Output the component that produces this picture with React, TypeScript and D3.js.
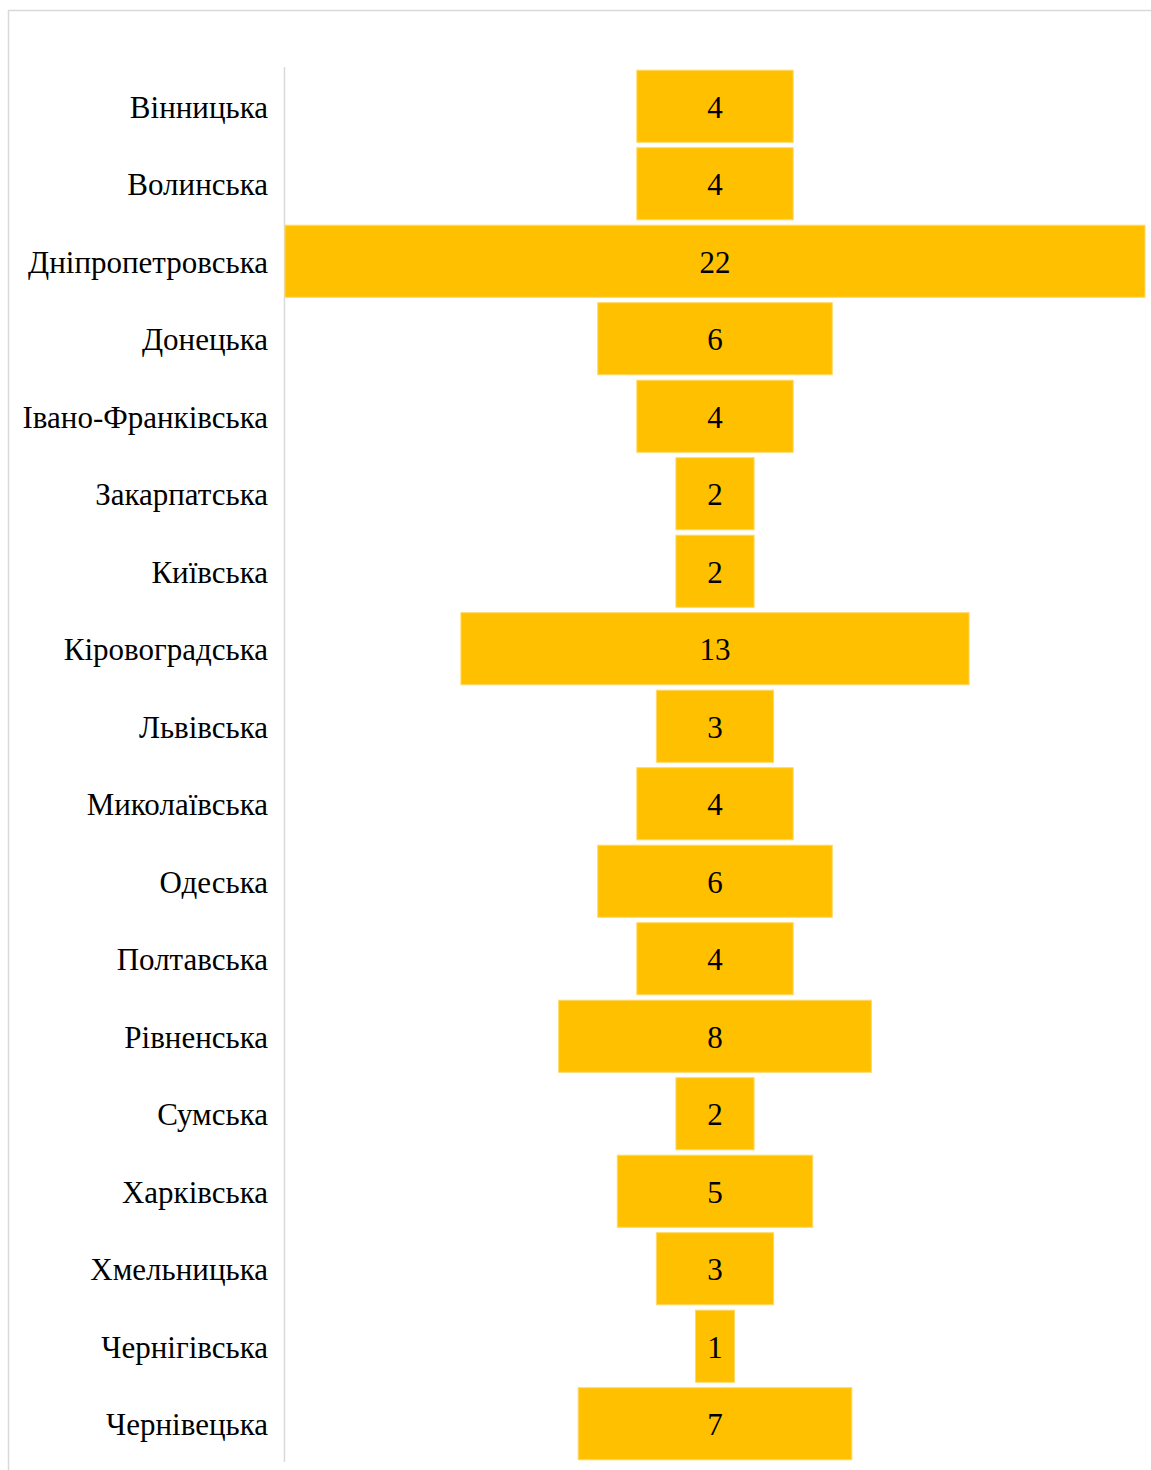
import * as d3 from 'd3'

const regions = [
  'Вінницька',
  'Волинська',
  'Дніпропетровська',
  'Донецька',
  'Івано-Франківська',
  'Закарпатська',
  'Київська',
  'Кіровоградська',
  'Львівська',
  'Миколаївська',
  'Одеська',
  'Полтавська',
  'Рівненська',
  'Сумська',
  'Харківська',
  'Хмельницька',
  'Чернігівська',
  'Чернівецька',
]

const counts = [4, 4, 22, 6, 4, 2, 2, 13, 3, 4, 6, 4, 8, 2, 5, 3, 1, 7]

const W = 1151
const H = 1470
const FONT = '"Liberation Serif", "Times New Roman", serif'

export default function App() {
  const plotLeft = 285
  const plotRight = 1145
  const center = (plotLeft + plotRight) / 2

  const y = d3.scaleBand<string>()
    .domain(regions)
    .range([67.5, 1462.5])
    .paddingInner(0.07)
    .paddingOuter(0.035)

  // half-width scale: max value spans the whole plot
  const half = d3.scaleLinear()
    .domain([0, d3.max(counts) ?? 1])
    .range([0, (plotRight - plotLeft) / 2])

  return (
    <div style={{ position: 'fixed', left: 0, top: 0, width: W, height: H, overflow: 'hidden', background: '#fff' }}>
      <svg width={W} height={H} style={{ display: 'block' }}>
        {/* chart frame */}
        <rect x={8.5} y={10.5} width={W + 20} height={H + 20} fill="#fff" stroke="#d9d9d9" strokeWidth={1.5} />

        {/* category axis line */}
        <line x1={284.5} x2={284.5} y1={67} y2={1462} stroke="#d9d9d9" strokeWidth={1.5} />

        {regions.map((r, i) => {
          const v = counts[i]
          const yy = y(r) ?? 0
          const w = half(v)
          const cy = yy + y.bandwidth() / 2
          return (
            <g key={r}>
              <rect
                x={center - w}
                y={yy}
                width={w * 2}
                height={y.bandwidth()}
                fill="#ffc000"
                stroke="#ffd966"
                strokeWidth={1}
              />
              <text
                x={center}
                y={cy + 1}
                textAnchor="middle"
                dominantBaseline="central"
                fontFamily={FONT}
                fontSize={31}
                fill="#000"
              >
                {v}
              </text>
              <text
                x={268}
                y={cy + 1}
                textAnchor="end"
                dominantBaseline="central"
                fontFamily={FONT}
                fontSize={31}
                fill="#000"
              >
                {r}
              </text>
            </g>
          )
        })}
      </svg>
    </div>
  )
}
